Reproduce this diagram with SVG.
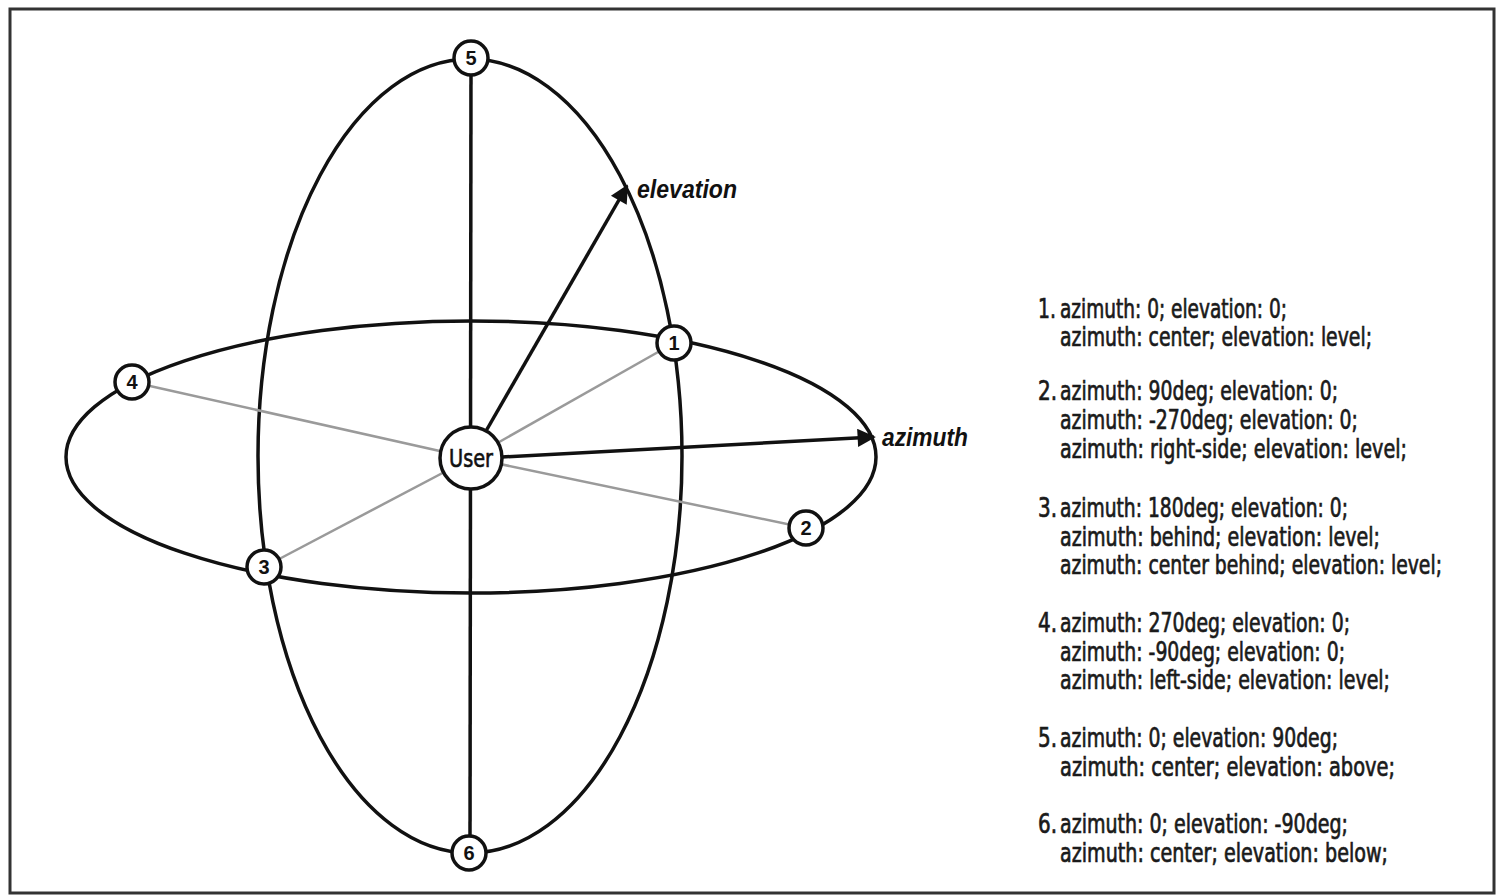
<svg xmlns="http://www.w3.org/2000/svg" width="1499" height="896" viewBox="0 0 1499 896">
<defs>
<style>
.orbit{fill:none;stroke:#111;stroke-width:3.5}
.axis{stroke:#111;stroke-width:3.5;fill:none}
.gray{stroke:#9a9a9a;stroke-width:2.5}
.node{fill:#fff;stroke:#111;stroke-width:3.5}
.num{font-family:"Liberation Sans Narrow","Liberation Sans",Arial,sans-serif;font-weight:bold;font-size:20px;fill:#111;text-anchor:middle}
.lbl{font-family:"Liberation Sans Narrow","DejaVu Sans Condensed","Liberation Sans",sans-serif;font-size:27px;fill:#1a1a1a;stroke:#1a1a1a;stroke-width:0.7}
.ax{font-family:"Liberation Sans",Arial,sans-serif;font-weight:bold;font-style:italic;font-size:25px;fill:#111}
</style>
<marker id="arr" viewBox="0 0 10 10" refX="9" refY="5" markerWidth="7" markerHeight="5.2" markerUnits="strokeWidth" orient="auto">
<path d="M0,0 L10,5 L0,10 Z" fill="#111"/>
</marker>
</defs>
<rect x="0" y="0" width="1499" height="896" fill="#fff"/>
<rect x="10" y="9" width="1484" height="884" fill="none" stroke="#333" stroke-width="3"/>

<g id="connectors">
<ellipse class="orbit" cx="470" cy="456" rx="212" ry="397"/>
<ellipse class="orbit" cx="471" cy="457" rx="405" ry="136"/>
<line class="gray" x1="471" y1="458" x2="674" y2="343"/>
<line class="gray" x1="471" y1="458" x2="132" y2="382"/>
<line class="gray" x1="471" y1="458" x2="806" y2="528"/>
<line class="gray" x1="471" y1="458" x2="264" y2="567"/>
<line class="axis" x1="471" y1="60" x2="470" y2="853"/>
<line class="axis" x1="486" y1="431" x2="627" y2="186" marker-end="url(#arr)"/>
<line class="axis" x1="502" y1="457" x2="874" y2="437" marker-end="url(#arr)"/>
</g>

<g id="user">
<circle class="node" cx="471" cy="458" r="31"/>
<text x="471" y="467" font-family="Liberation Sans Narrow,'DejaVu Sans Condensed','Liberation Sans',sans-serif" font-size="25" fill="#111" stroke="#111" stroke-width="0.6" text-anchor="middle" textLength="44" lengthAdjust="spacingAndGlyphs">User</text>
</g>
<g id="n1"><circle class="node" cx="674" cy="343" r="17"/><text class="num" x="674" y="350">1</text></g>
<g id="n2"><circle class="node" cx="806" cy="528" r="17"/><text class="num" x="806" y="535">2</text></g>
<g id="n3"><circle class="node" cx="264" cy="567" r="17"/><text class="num" x="264" y="574">3</text></g>
<g id="n4"><circle class="node" cx="132" cy="382" r="17"/><text class="num" x="132" y="389">4</text></g>
<g id="n5"><circle class="node" cx="471" cy="58" r="17"/><text class="num" x="471" y="65">5</text></g>
<g id="n6"><circle class="node" cx="469" cy="853" r="17"/><text class="num" x="469" y="860">6</text></g>

<g id="axis-labels">
<text class="ax" x="637" y="198" textLength="100" lengthAdjust="spacingAndGlyphs">elevation</text>
<text class="ax" x="882" y="446" textLength="86" lengthAdjust="spacingAndGlyphs">azimuth</text>
</g>

<g id="legend">
<text class="lbl" x="1038" y="318" textLength="18" lengthAdjust="spacingAndGlyphs">1.</text>
<text class="lbl" x="1060" y="318" textLength="227" lengthAdjust="spacingAndGlyphs">azimuth: 0; elevation: 0;</text>
<text class="lbl" x="1060" y="346" textLength="312" lengthAdjust="spacingAndGlyphs">azimuth: center; elevation: level;</text>

<text class="lbl" x="1038" y="400" textLength="19" lengthAdjust="spacingAndGlyphs">2.</text>
<text class="lbl" x="1060" y="400" textLength="278" lengthAdjust="spacingAndGlyphs">azimuth: 90deg; elevation: 0;</text>
<text class="lbl" x="1060" y="429" textLength="298" lengthAdjust="spacingAndGlyphs">azimuth: -270deg; elevation: 0;</text>
<text class="lbl" x="1060" y="458" textLength="347" lengthAdjust="spacingAndGlyphs">azimuth: right-side; elevation: level;</text>

<text class="lbl" x="1038" y="517" textLength="19" lengthAdjust="spacingAndGlyphs">3.</text>
<text class="lbl" x="1060" y="517" textLength="288" lengthAdjust="spacingAndGlyphs">azimuth: 180deg; elevation: 0;</text>
<text class="lbl" x="1060" y="546" textLength="320" lengthAdjust="spacingAndGlyphs">azimuth: behind; elevation: level;</text>
<text class="lbl" x="1060" y="574" font-size="26" textLength="382" lengthAdjust="spacingAndGlyphs">azimuth: center behind; elevation: level;</text>

<text class="lbl" x="1038" y="632" textLength="19" lengthAdjust="spacingAndGlyphs">4.</text>
<text class="lbl" x="1060" y="632" textLength="290" lengthAdjust="spacingAndGlyphs">azimuth: 270deg; elevation: 0;</text>
<text class="lbl" x="1060" y="661" textLength="285" lengthAdjust="spacingAndGlyphs">azimuth: -90deg; elevation: 0;</text>
<text class="lbl" x="1060" y="689" textLength="330" lengthAdjust="spacingAndGlyphs">azimuth: left-side; elevation: level;</text>

<text class="lbl" x="1038" y="747" textLength="19" lengthAdjust="spacingAndGlyphs">5.</text>
<text class="lbl" x="1060" y="747" textLength="278" lengthAdjust="spacingAndGlyphs">azimuth: 0; elevation: 90deg;</text>
<text class="lbl" x="1060" y="776" textLength="335" lengthAdjust="spacingAndGlyphs">azimuth: center; elevation: above;</text>

<text class="lbl" x="1038" y="833" textLength="19" lengthAdjust="spacingAndGlyphs">6.</text>
<text class="lbl" x="1060" y="833" textLength="288" lengthAdjust="spacingAndGlyphs">azimuth: 0; elevation: -90deg;</text>
<text class="lbl" x="1060" y="862" textLength="328" lengthAdjust="spacingAndGlyphs">azimuth: center; elevation: below;</text>
</g>
</svg>
